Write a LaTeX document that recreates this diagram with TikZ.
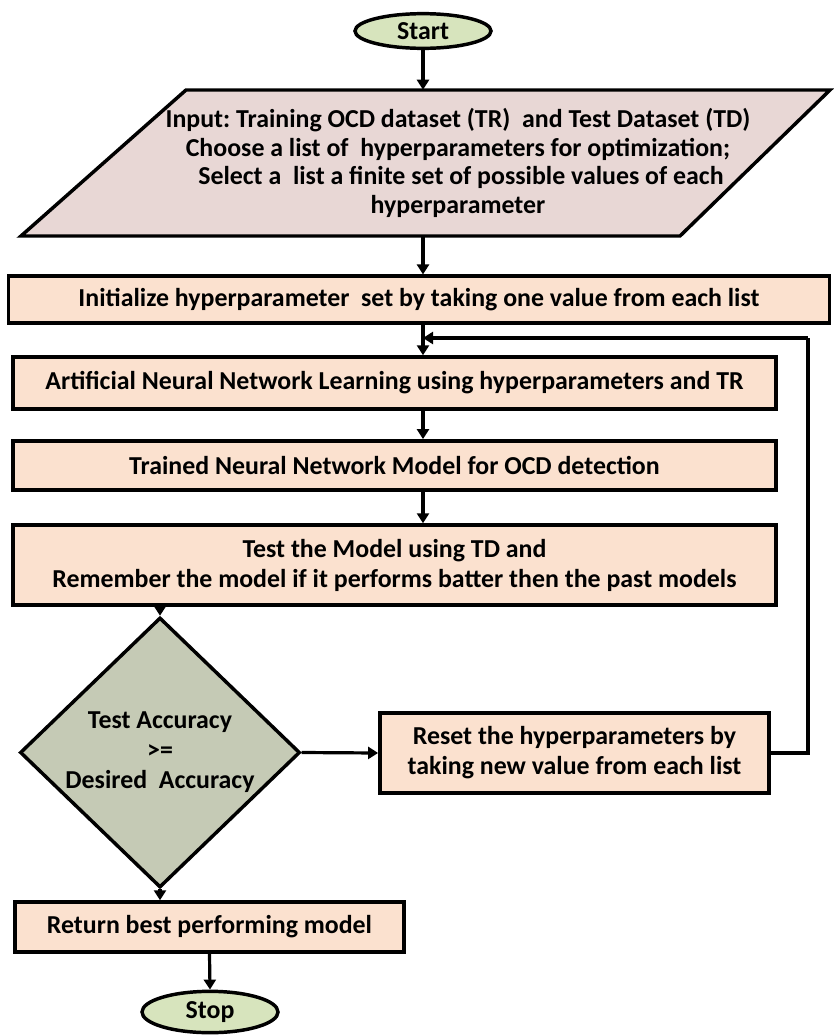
\documentclass[tikz,border=0pt]{standalone}
\usepackage{fontspec}
\setmainfont{Carlito}
\frenchspacing
\usetikzlibrary{shapes.geometric,arrows.meta}
\definecolor{termfill}{HTML}{D7E4BD}
\definecolor{infill}{HTML}{E8D7D5}
\definecolor{boxfill}{HTML}{FBE1CF}
\definecolor{decfill}{HTML}{C5CAB5}
\tikzset{
  term/.style={ellipse, draw, line width=2.6pt, fill=termfill, minimum width=102pt, inner sep=0pt},
  stepbox/.style={rectangle, draw, line width=2.6pt, fill=boxfill, align=center, inner sep=0pt},
  decide/.style={diamond, draw, line width=2.6pt, fill=decfill, align=center, inner sep=0pt, minimum width=210pt, minimum height=172pt},
  arr/.style={line width=2.4pt, -{Triangle[length=7.5pt,width=9pt]}}
}
\begin{document}
\begin{tikzpicture}[x=0.75pt, y=-0.75pt, font=\fontsize{19.4}{22.5}\selectfont\bfseries]
\useasboundingbox (0,0) rectangle (833,1035);
\node[term, minimum height=26pt] (start) at (423,31){Start};
\draw[line width=2.6pt, fill=infill] (21,236) -- (186,90) -- (830,90) -- (680,236) -- cycle;
\node[align=center, minimum height=109.5pt, inner sep=0pt, font=\fontsize{19.4}{21.5}\selectfont\bfseries] (input) at (458,163){Input: Training OCD dataset (TR) \ and Test Dataset (TD)\\Choose a list of \ hyperparameters for optimization;\\\ Select a \ list a finite set of possible values of each\\hyperparameter};
\node[stepbox, minimum width=616pt, minimum height=35pt] (init) at (419,299.5){Initialize hyperparameter \ set by taking one value from each list};
\node[stepbox, minimum width=572pt, minimum height=39pt] (ann) at (394.5,383){Artificial Neural Network Learning using hyperparameters and TR};
\node[stepbox, minimum width=572pt, minimum height=37pt] (trained) at (394.5,465.5){Trained Neural Network Model for OCD detection};
\node[stepbox, minimum width=572pt, minimum height=60pt] (test) at (394.5,565){Test the Model using TD and\\Remember the model if it performs batter then the past models};
\node[decide] (decision) at (160,752.5){Test Accuracy\\>=\\Desired \ Accuracy};
\node[stepbox, minimum width=292pt, minimum height=60pt] (reset) at (574.5,753){Reset the hyperparameters by\\taking new value from each list};
\node[stepbox, minimum width=292pt, minimum height=37.5pt] (ret) at (209.5,927){Return best performing model};
\node[term, minimum height=31pt] (stop) at (210,1012){Stop};
\coordinate (back) at (808,338);
\draw[arr] (start) -- (start |- input.north);
\draw[arr] (start |- input.south) -- (start |- init.north);
\draw[arr] (start |- init.south) -- (start |- ann.north);
\draw[line width=2.4pt] (reset.east) -| (back);
\draw[arr] (back) -- (start |- back);
\draw[arr] (start |- ann.south) -- (start |- trained.north);
\draw[arr] (start |- trained.south) -- (start |- test.north);
\draw[arr] (test.south -| decision.north) -- (decision.north);
\draw[arr] (decision.east) -- (reset.west);
\draw[arr] (decision.south) -- (decision.south |- ret.north);
\draw[arr] (ret.south) -- (stop.north);
\end{tikzpicture}
\end{document}
